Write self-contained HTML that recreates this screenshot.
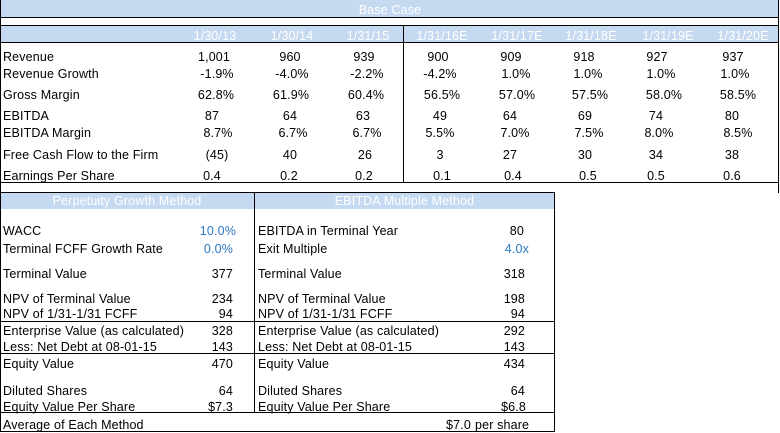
<!DOCTYPE html>
<html><head><meta charset="utf-8"><style>
*{margin:0;padding:0;box-sizing:border-box}
body{width:780px;height:433px;background:#fff;position:relative;overflow:hidden;font-family:"Liberation Sans",Arial,sans-serif;font-size:12.5px;letter-spacing:0.15px;color:#000}
.b{position:absolute;background:#c5d9f1}
.h{position:absolute;height:1px;background:#000}
.v{position:absolute;width:1px;background:#000}
.t{position:absolute;line-height:14px;white-space:nowrap}
.c{position:absolute;line-height:14px;white-space:nowrap;width:80px;text-align:center}
.r{position:absolute;line-height:14px;white-space:nowrap;width:80px;text-align:right}
.w{color:#fff}
.bl{color:#2a78c2}
</style></head><body>
<div class="b" style="left:0;top:0;width:779px;height:17px"></div>
<div class="b" style="left:0;top:26px;width:779px;height:16px"></div>
<div class="b" style="left:0;top:193px;width:555px;height:16px"></div>

<div class="h" style="left:0;top:17px;width:779px"></div>
<div class="h" style="left:0;top:25px;width:779px"></div>
<div class="h" style="left:0;top:42px;width:779px"></div>
<div class="h" style="left:0;top:182px;width:779px"></div>
<div class="h" style="left:0;top:192px;width:555px"></div>
<div class="h" style="left:0;top:321px;width:555px"></div>
<div class="h" style="left:0;top:353px;width:555px"></div>
<div class="h" style="left:0;top:412px;width:555px"></div>
<div class="h" style="left:0;top:431px;width:555px"></div>
<div class="v" style="left:0;top:0;height:432px"></div>
<div class="v" style="left:778px;top:0;height:193px"></div>
<div class="v" style="left:403px;top:25px;height:157px"></div>
<div class="v" style="left:254px;top:192px;height:220px"></div>
<div class="v" style="left:554px;top:192px;height:240px"></div>

<div class="c w" style="left:350px;top:3px">Base Case</div>
<div class="c w" style="left:175px;top:29px">1/30/13</div>
<div class="c w" style="left:252px;top:29px">1/30/14</div>
<div class="c w" style="left:328px;top:29px">1/31/15</div>
<div class="c w" style="left:402px;top:29px">1/31/16E</div>
<div class="c w" style="left:477px;top:29px">1/31/17E</div>
<div class="c w" style="left:551px;top:29px">1/31/18E</div>
<div class="c w" style="left:628px;top:29px">1/31/19E</div>
<div class="c w" style="left:703px;top:29px">1/31/20E</div>

<div class="t" style="left:3px;top:50px">Revenue</div>
<div class="t" style="left:3px;top:67px">Revenue Growth</div>
<div class="t" style="left:3px;top:88px">Gross Margin</div>
<div class="t" style="left:3px;top:109px">EBITDA</div>
<div class="t" style="left:3px;top:126px">EBITDA Margin</div>
<div class="t" style="left:3px;top:148px">Free Cash Flow to the Firm</div>
<div class="t" style="left:3px;top:169px">Earnings Per Share</div>

<div class="c" style="left:174px;top:50px">1,001</div>
<div class="c" style="left:250px;top:50px">960</div>
<div class="c" style="left:324px;top:50px">939</div>
<div class="c" style="left:398px;top:50px">900</div>
<div class="c" style="left:471px;top:50px">909</div>
<div class="c" style="left:544px;top:50px">918</div>
<div class="c" style="left:617px;top:50px">927</div>
<div class="c" style="left:693px;top:50px">937</div>

<div class="c" style="left:177px;top:67px">-1.9%</div>
<div class="c" style="left:252px;top:67px">-4.0%</div>
<div class="c" style="left:327px;top:67px">-2.2%</div>
<div class="c" style="left:400px;top:67px">-4.2%</div>
<div class="c" style="left:476px;top:67px">1.0%</div>
<div class="c" style="left:548px;top:67px">1.0%</div>
<div class="c" style="left:621px;top:67px">1.0%</div>
<div class="c" style="left:695px;top:67px">1.0%</div>

<div class="c" style="left:176px;top:88px">62.8%</div>
<div class="c" style="left:251px;top:88px">61.9%</div>
<div class="c" style="left:326px;top:88px">60.4%</div>
<div class="c" style="left:402px;top:88px">56.5%</div>
<div class="c" style="left:477px;top:88px">57.0%</div>
<div class="c" style="left:550px;top:88px">57.5%</div>
<div class="c" style="left:624px;top:88px">58.0%</div>
<div class="c" style="left:698px;top:88px">58.5%</div>

<div class="c" style="left:172px;top:109px">87</div>
<div class="c" style="left:250px;top:109px">64</div>
<div class="c" style="left:323px;top:109px">63</div>
<div class="c" style="left:400px;top:109px">49</div>
<div class="c" style="left:470px;top:109px">64</div>
<div class="c" style="left:545px;top:109px">69</div>
<div class="c" style="left:616px;top:109px">74</div>
<div class="c" style="left:692px;top:109px">80</div>

<div class="c" style="left:178px;top:126px">8.7%</div>
<div class="c" style="left:253px;top:126px">6.7%</div>
<div class="c" style="left:327px;top:126px">6.7%</div>
<div class="c" style="left:400px;top:126px">5.5%</div>
<div class="c" style="left:475px;top:126px">7.0%</div>
<div class="c" style="left:549px;top:126px">7.5%</div>
<div class="c" style="left:619px;top:126px">8.0%</div>
<div class="c" style="left:698px;top:126px">8.5%</div>

<div class="c" style="left:177px;top:148px">(45)</div>
<div class="c" style="left:250px;top:148px">40</div>
<div class="c" style="left:325px;top:148px">26</div>
<div class="c" style="left:400px;top:148px">3</div>
<div class="c" style="left:470px;top:148px">27</div>
<div class="c" style="left:545px;top:148px">30</div>
<div class="c" style="left:616px;top:148px">34</div>
<div class="c" style="left:692px;top:148px">38</div>

<div class="c" style="left:172px;top:169px">0.4</div>
<div class="c" style="left:249px;top:169px">0.2</div>
<div class="c" style="left:324px;top:169px">0.2</div>
<div class="c" style="left:402px;top:169px">0.1</div>
<div class="c" style="left:473px;top:169px">0.4</div>
<div class="c" style="left:548px;top:169px">0.5</div>
<div class="c" style="left:616px;top:169px">0.5</div>
<div class="c" style="left:692px;top:169px">0.6</div>

<div class="t w" style="left:0;top:194px;width:254px;text-align:center">Perpetuity Growth Method</div>
<div class="t w" style="left:254px;top:194px;width:301px;text-align:center">EBITDA Multiple Method</div>

<div class="t" style="left:3px;top:224px">WACC</div>
<div class="t" style="left:3px;top:242px">Terminal FCFF Growth Rate</div>
<div class="t" style="left:3px;top:267px">Terminal Value</div>
<div class="t" style="left:3px;top:292px">NPV of Terminal Value</div>
<div class="t" style="left:3px;top:307px">NPV of 1/31-1/31 FCFF</div>
<div class="t" style="left:3px;top:324px">Enterprise Value (as calculated)</div>
<div class="t" style="left:3px;top:340px">Less: Net Debt at 08-01-15</div>
<div class="t" style="left:3px;top:357px">Equity Value</div>
<div class="t" style="left:3px;top:384px">Diluted Shares</div>
<div class="t" style="left:3px;top:400px">Equity Value Per Share</div>
<div class="t" style="left:3px;top:418px">Average of Each Method</div>

<div class="r bl" style="left:156px;top:224px">10.0%</div>
<div class="r bl" style="left:153px;top:242px">0.0%</div>
<div class="r" style="left:153px;top:267px">377</div>
<div class="r" style="left:153px;top:292px">234</div>
<div class="r" style="left:153px;top:307px">94</div>
<div class="r" style="left:153px;top:324px">328</div>
<div class="r" style="left:153px;top:340px">143</div>
<div class="r" style="left:153px;top:357px">470</div>
<div class="r" style="left:153px;top:384px">64</div>
<div class="r" style="left:153px;top:400px">$7.3</div>

<div class="t" style="left:258px;top:224px">EBITDA in Terminal Year</div>
<div class="t" style="left:258px;top:242px">Exit Multiple</div>
<div class="t" style="left:258px;top:267px">Terminal Value</div>
<div class="t" style="left:258px;top:292px">NPV of Terminal Value</div>
<div class="t" style="left:258px;top:307px">NPV of 1/31-1/31 FCFF</div>
<div class="t" style="left:258px;top:324px">Enterprise Value (as calculated)</div>
<div class="t" style="left:258px;top:340px">Less: Net Debt at 08-01-15</div>
<div class="t" style="left:258px;top:357px">Equity Value</div>
<div class="t" style="left:258px;top:384px">Diluted Shares</div>
<div class="t" style="left:258px;top:400px">Equity Value Per Share</div>

<div class="r" style="left:444px;top:224px">80</div>
<div class="r bl" style="left:449px;top:242px">4.0x</div>
<div class="r" style="left:445px;top:267px">318</div>
<div class="r" style="left:445px;top:292px">198</div>
<div class="r" style="left:445px;top:307px">94</div>
<div class="r" style="left:445px;top:324px">292</div>
<div class="r" style="left:445px;top:340px">143</div>
<div class="r" style="left:445px;top:357px">434</div>
<div class="r" style="left:445px;top:384px">64</div>
<div class="r" style="left:446px;top:400px">$6.8</div>

<div class="t" style="left:446px;top:418px">$7.0</div>
<div class="t" style="left:475px;top:418px">per share</div>
</body></html>
